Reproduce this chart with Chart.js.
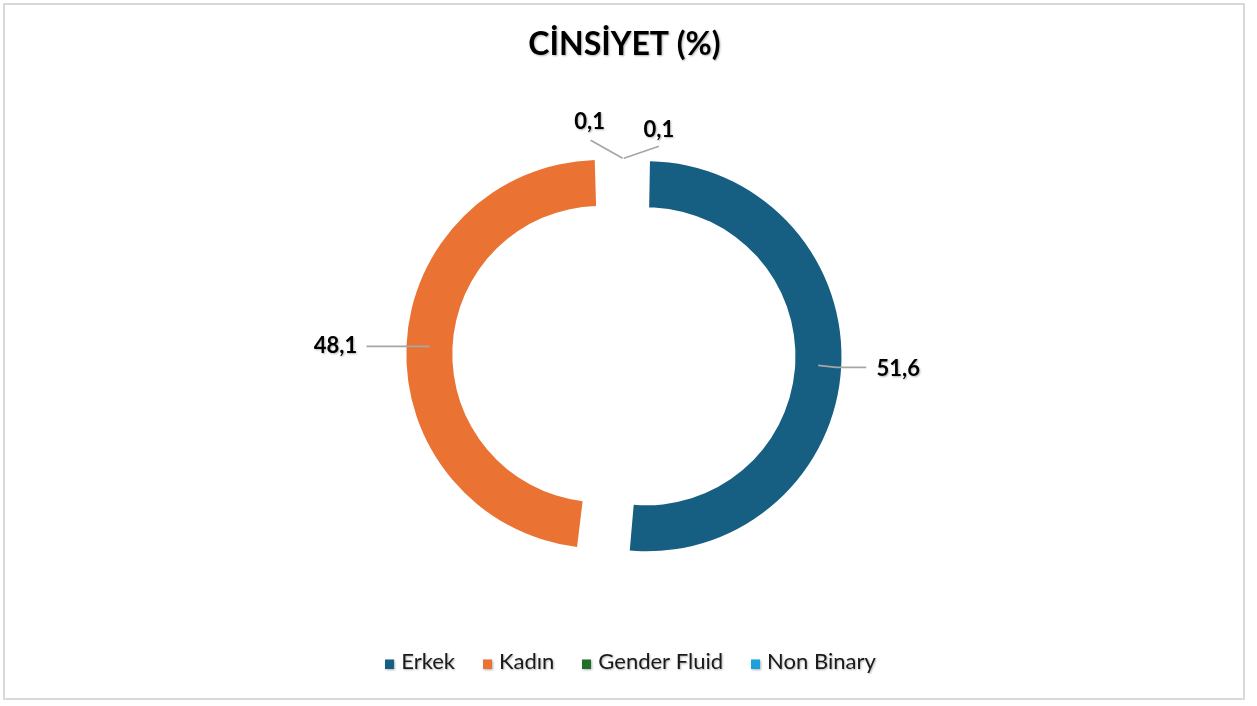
<!doctype html>
<html lang="tr">
<head>
<meta charset="utf-8">
<title>Cinsiyet</title>
<script src="https://cdn.jsdelivr.net/npm/chart.js@4.4.1/dist/chart.umd.min.js"></script>
<style>
  html, body { margin: 0; padding: 0; background: #fff; }
  #wrap { width: 1257px; height: 706px; }
</style>
</head>
<body>
<div id="wrap"><canvas id="myChart" width="1257" height="706"></canvas></div>
<script>
// data (percent)
const categories = ['Erkek', 'Kadın', 'Gender Fluid', 'Non Binary'];
const shares = [51.6, 48.1, 0.1, 0.1];

// style
const colours = ['#175F82', '#EA7333', '#1F6E2A', '#1BA1DB'];
const explode = [88, 96, 48, 48];   // chart.js arc offset (moves arc by offset/4)
const labelLayout = [
  {anchor: 'mid', text: [80, 3.5], line: [[18, 2], [48, 2]]},
  {anchor: 'mid', text: [-94, 0], line: [[-63, 0]]},
  {anchor: 'outer', text: [-33, -36], line: [[-32, -18]]},
  {anchor: 'outer', text: [35, -28.5], line: [[35, -12]]}
];

function fmt(v) {
  return v.toFixed(1).replace('.', ',');
}

// little square swatches for the legend (square sits a bit low, like the original)
const swatches = colours.map(c => {
  const cv = document.createElement('canvas');
  cv.width = 9;
  cv.height = 13;
  const g = cv.getContext('2d');
  g.fillStyle = c;
  g.fillRect(0, 4, 9, 9);
  return cv;
});

const frameAndShadow = {
  id: 'frameAndShadow',
  afterLayout(chart) {
    // legend sits a little right of the ring centre in the original
    chart.legend.left += 8;
    chart.legend.right += 8;
  },
  beforeDraw(chart) {
    const ctx = chart.ctx;
    ctx.save();
    ctx.strokeStyle = '#d9d9d9';
    ctx.lineWidth = 2;
    ctx.strokeRect(4, 4, 1240, 695);
    ctx.restore();
    // soft text shadow for title + legend
    ctx.shadowColor = 'rgba(0,0,0,0.3)';
    ctx.shadowBlur = 2;
    ctx.shadowOffsetX = 1;
    ctx.shadowOffsetY = 1;
  },
  beforeDatasetsDraw(chart) {
    const ctx = chart.ctx;
    ctx.shadowColor = 'rgba(0,0,0,0)';
    ctx.shadowBlur = 0;
    ctx.shadowOffsetX = 0;
    ctx.shadowOffsetY = 0;
  }
};

const valueLabels = {
  id: 'valueLabels',
  afterDatasetsDraw(chart) {
    const ctx = chart.ctx;
    const meta = chart.getDatasetMeta(0);
    meta.data.forEach((arc, i) => {
      const p = arc.getProps(['x', 'y', 'startAngle', 'endAngle', 'innerRadius', 'outerRadius', 'circumference']);
      const shift = (arc.options.offset || 0) / 4;
      const mid = (p.startAngle + p.endAngle) / 2;
      const grow = shift * (1 - Math.sin(Math.min(Math.PI, p.circumference)));
      const cx = p.x + Math.cos(mid) * shift;
      const cy = p.y + Math.sin(mid) * shift;
      const lay = labelLayout[i];
      const r = lay.anchor === 'mid' ? (p.innerRadius + p.outerRadius) / 2 + grow : p.outerRadius + grow;
      const ax = cx + Math.cos(mid) * r;
      const ay = cy + Math.sin(mid) * r;

      ctx.save();
      ctx.strokeStyle = '#a6a6a6';
      ctx.lineWidth = 1.75;
      ctx.beginPath();
      ctx.moveTo(ax, ay);
      lay.line.forEach(([dx, dy]) => ctx.lineTo(ax + dx, ay + dy));
      ctx.stroke();

      ctx.shadowColor = 'rgba(0,0,0,0.3)';
      ctx.shadowBlur = 2;
      ctx.shadowOffsetX = 1;
      ctx.shadowOffsetY = 1;
      ctx.font = 'bold 22px Lato';
      ctx.fillStyle = '#000';
      ctx.textAlign = 'center';
      ctx.textBaseline = 'middle';
      ctx.fillText(fmt(shares[i]), ax + lay.text[0], ay + lay.text[1]);
      ctx.restore();
    });
  }
};

const ctx = document.getElementById('myChart').getContext('2d');
new Chart(ctx, {
  type: 'doughnut',
  data: {
    labels: categories,
    datasets: [{
      data: shares,
      backgroundColor: colours,
      borderColor: '#ffffff',
      borderWidth: [0, 0, 2, 2],
      offset: explode,
      hoverOffset: 0
    }]
  },
  options: {
    responsive: false,
    animation: false,
    events: [],
    radius: 173,
    cutout: '73.4%',
    layout: {padding: {left: 3, right: 11, top: 0, bottom: 23}},
    plugins: {
      title: {
        display: true,
        text: 'CİNSİYET (%)',
        color: '#000',
        font: {family: 'Lato', size: 32, weight: 'bold'},
        padding: {top: 25, bottom: 28}
      },
      legend: {
        position: 'bottom',
        labels: {
          usePointStyle: true,
          pointStyleWidth: 1,
          boxHeight: 9,
          padding: 32,
          color: '#1a1a1a',
          font: {family: 'Lato', size: 22},
          generateLabels(chart) {
            const items = Chart.overrides.doughnut.plugins.legend.labels.generateLabels(chart);
            items.forEach((it, i) => {
              it.pointStyle = swatches[i];
              it.lineWidth = 0;
            });
            return items;
          }
        }
      },
      tooltip: {enabled: false}
    }
  },
  plugins: [frameAndShadow, valueLabels]
});
</script>
</body>
</html>
